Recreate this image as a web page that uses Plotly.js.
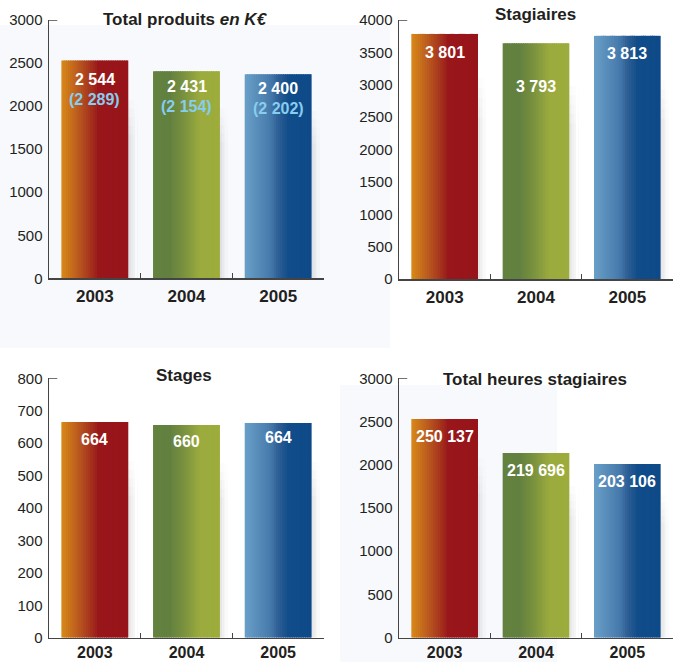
<!DOCTYPE html>
<html>
<head>
<meta charset="utf-8">
<script src="https://cdn.plot.ly/plotly-3.0.1.min.js"></script>
<style>html,body{margin:0;padding:0;background:#fff;}#chart{width:675px;height:662px;}</style>
</head>
<body>
<div id="chart"></div>
<script>
// ---- data ----
const years = ['2003', '2004', '2005'];
const produitsBars = [2530, 2405, 2370];
const produitsLabels = ['2 544', '2 431', '2 400'];
const produitsSubLabels = ['(2 289)', '(2 154)', '(2 202)'];
const stagiairesBars = [3785, 3640, 3755];
const stagiairesLabels = ['3 801', '3 793', '3 813'];
const stagesBars = [665, 656, 662];
const stagesLabels = ['664', '660', '664'];
const heuresBars = [2530, 2135, 2010];
const heuresLabels = ['250 137', '219 696', '203 106'];
const titles = ['Total produits <i>en K€</i>', 'Stagiaires', 'Stages', 'Total heures stagiaires'];

// ---- styles ----
const W = 675, H = 662;
const FONT = 'Liberation Sans, Arial, sans-serif';
const AX = '#444444';
const TXT = '#231f20';
const gradients = [
  [[0, '#d88a18'], [0.25, '#bb5a1f'], [0.48, '#a02a1c'], [0.55, '#99171b'], [1, '#97141a']],
  [[0, '#63813f'], [0.25, '#62803f'], [0.5, '#7f953e'], [0.7, '#9bab3d'], [1, '#9dac3c']],
  [[0, '#6aa0c7'], [0.3, '#4e82b2'], [0.4, '#4377a9'], [0.5, '#2f5f95'], [0.65, '#114d8a'], [1, '#0e4a89']]
];
const BARW = 0.73, NSTRIP = 30;

function hex2rgb(h) { return [1, 3, 5].map(i => parseInt(h.substr(i, 2), 16)); }
function colorAt(stops, t) {
  for (let i = 0; i < stops.length - 1; i++) {
    const [t0, c0] = stops[i], [t1, c1] = stops[i + 1];
    if (t >= t0 && t <= t1) {
      const f = (t - t0) / (t1 - t0 || 1);
      const a = hex2rgb(c0), b = hex2rgb(c1);
      return 'rgb(' + a.map((v, j) => Math.round(v + (b[j] - v) * f)).join(',') + ')';
    }
  }
  return stops[stops.length - 1][1];
}

const traces = [];
function addBars(vals, xa, ya) {
  // soft shadow to the right (fades horizontally and vertically)
  const sh = [0.09, 0.075, 0.06, 0.045, 0.03, 0.018, 0.008];
  const hf = [0.66, 0.70, 0.74, 0.78, 0.82];
  const sw = 1.4 / 91.5;
  sh.forEach((op, k) => {
    hf.forEach(f => {
      traces.push({
        type: 'bar', x: years, y: vals.map(v => v * f), xaxis: xa, yaxis: ya,
        width: sw, offset: BARW / 2 + k * sw, hoverinfo: 'skip', showlegend: false,
        marker: { color: 'rgba(60,50,50,' + (op / hf.length * 1.3).toFixed(4) + ')', line: { width: 0 } }
      });
    });
  });
  const step = BARW / NSTRIP;
  for (let k = 0; k < NSTRIP; k++) {
    const t = (k + 0.5) / NSTRIP;
    traces.push({
      type: 'bar', x: years, y: vals, xaxis: xa, yaxis: ya,
      width: k < NSTRIP - 1 ? step * 1.6 : step,
      offset: -BARW / 2 + k * step,
      hoverinfo: 'skip', showlegend: false,
      marker: { color: gradients.map(g => colorAt(g, t)), line: { width: 0 } }
    });
  }
}
addBars(produitsBars, 'x', 'y');
addBars(stagiairesBars, 'x2', 'y2');
addBars(stagesBars, 'x3', 'y3');
addBars(heuresBars, 'x4', 'y4');

const px = v => v / W;
const py = v => (H - v) / H;

function xAxis(d, anchor, standoff, size) {
  return {
    domain: d, anchor: anchor, type: 'category', categoryorder: 'array', categoryarray: years,
    range: [-0.5, 2.5], showline: true, linecolor: AX, linewidth: 1.5,
    ticks: 'inside', tickson: 'boundaries', ticklen: 5, tickcolor: AX, tickwidth: 1.2,
    showgrid: false, zeroline: false, fixedrange: true, ticklabelstandoff: standoff,
    tickfont: { family: FONT, size: size, color: TXT, weight: 'bold' }
  };
}
function yAxis(d, anchor, max, dtick) {
  return {
    domain: d, anchor: anchor, range: [0, max], dtick: dtick, tick0: 0,
    showline: true, linecolor: AX, linewidth: 1.5, ticks: '', showgrid: false, zeroline: false,
    fixedrange: true, ticklabelstandoff: 2,
    tickfont: { family: FONT, size: 15, color: TXT }
  };
}

const dxL = [px(49), px(324)], dxR = [px(399), px(673)];
const layout = {
  width: W, height: H, autosize: false,
  margin: { l: 0, r: 0, t: 0, b: 0, pad: 0 },
  paper_bgcolor: '#ffffff', plot_bgcolor: 'rgba(0,0,0,0)',
  barmode: 'overlay', showlegend: false,
  xaxis: xAxis(dxL, 'y', 2, 17), yaxis: yAxis([py(278.3), py(20)], 'x', 3000, 500),
  xaxis2: xAxis(dxR, 'y2', 2, 17), yaxis2: yAxis([py(279), py(20)], 'x2', 4000, 500),
  xaxis3: xAxis(dxL, 'y3', 0, 16), yaxis3: yAxis([py(637.7), py(378.3)], 'x3', 800, 100),
  xaxis4: xAxis(dxR, 'y4', 0, 16), yaxis4: yAxis([py(637.7), py(378.3)], 'x4', 3000, 500),
  shapes: [
    { type: 'rect', xref: 'paper', yref: 'paper', x0: 0, x1: px(390), y0: py(348), y1: py(25),
      fillcolor: '#f7f9fd', line: { width: 0 }, layer: 'below' },
    { type: 'rect', xref: 'paper', yref: 'paper', x0: px(340), x1: px(557), y0: 0, y1: py(385),
      fillcolor: '#f7f9fd', line: { width: 0 }, layer: 'below' }
  ],
  annotations: []
};
// top caps of the y axes
[['x', 'y', 3000], ['x2', 'y2', 4000], ['x3', 'y3', 800], ['x4', 'y4', 3000]].forEach(([xa, ya, m]) => {
  layout.shapes.push({ type: 'line', xref: xa + ' domain', yref: ya, x0: 0, x1: 0.03, y0: m, y1: m,
    line: { color: AX, width: 1.5 } });
});

// titles
const titlePos = [[185, 20], [535, 15], [184, 375], [535, 379]];
titles.forEach((t, i) => {
  layout.annotations.push({ text: t, xref: 'paper', yref: 'paper', x: px(titlePos[i][0]), y: py(titlePos[i][1]),
    xanchor: 'center', yanchor: 'middle', showarrow: false,
    font: { family: FONT, size: 17, color: TXT, weight: 'bold' } });
});

// value labels (x given as category index)
function addLabels(labels, vals, xa, ya, shifts, color) {
  labels.forEach((lab, i) => {
    layout.annotations.push({ text: lab, xref: xa, yref: ya, x: i, y: vals[i],
      xanchor: 'center', yanchor: 'middle', yshift: -shifts[i], showarrow: false,
      font: { family: FONT, size: 16, color: color, weight: 'bold' } });
  });
}
addLabels(produitsLabels, produitsBars, 'x', 'y', [19, 15, 14], '#ffffff');
addLabels(produitsSubLabels, produitsBars, 'x', 'y', [39, 35, 34], '#86cdee');
addLabels(stagiairesLabels, stagiairesBars, 'x2', 'y2', [19, 43, 18], '#ffffff');
addLabels(stagesLabels, stagesBars, 'x3', 'y3', [17, 17, 14], '#ffffff');
addLabels(heuresLabels, heuresBars, 'x4', 'y4', [18, 17, 18], '#ffffff');

Plotly.newPlot('chart', traces, layout, { displayModeBar: false, staticPlot: true });
</script>
</body>
</html>
